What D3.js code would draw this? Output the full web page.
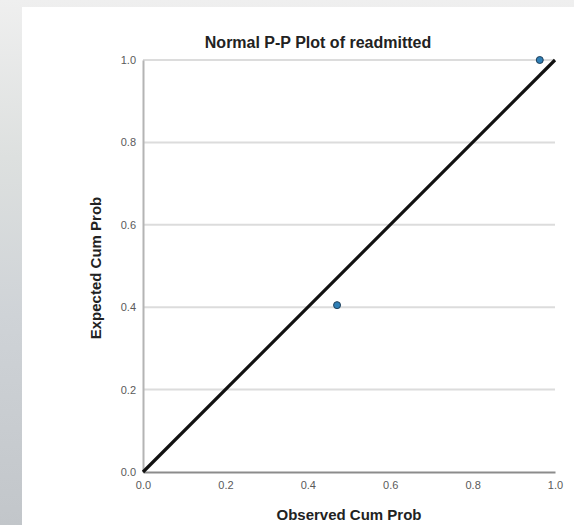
<!DOCTYPE html>
<html>
<head>
<meta charset="utf-8">
<script src="https://cdn.jsdelivr.net/npm/d3@7"></script>
<style>
  html, body { margin: 0; padding: 0; }
  body {
    width: 574px; height: 525px; overflow: hidden;
    background: linear-gradient(to bottom, #efefef 0%, #dde0df 30%, #cfd3d7 60%, #c2c6ca 100%);
    font-family: "Liberation Sans", Arial, sans-serif;
  }
  #chart { position: absolute; left: 22px; top: 7px; background: #fff; }
</style>
</head>
<body>
<svg id="chart"></svg>
<script>
const observed = [0.471, 0.963];
const expected = [0.405, 1.0];
const ticks = [0.0, 0.2, 0.4, 0.6, 0.8, 1.0];
const title = "Normal P-P Plot of readmitted";
const xTitle = "Observed Cum Prob";
const yTitle = "Expected Cum Prob";

const W = 552, H = 518;
// plot box in panel coordinates (panel starts at 22,7)
const margin = { top: 53, right: 19, bottom: 53, left: 121 };
const width = W - margin.left - margin.right;
const height = H - margin.top - margin.bottom;

const svg = d3.select("#chart").attr("width", W).attr("height", H);
const g = svg.append("g").attr("transform", `translate(${margin.left},${margin.top})`);

const x = d3.scaleLinear().domain([0, 1]).range([0, width]);
const y = d3.scaleLinear().domain([0, 1]).range([height, 0]);

// gridlines
g.selectAll(".grid")
  .data(ticks.filter((t) => t > 0))
  .enter()
  .append("line")
  .attr("x1", 0)
  .attr("x2", width)
  .attr("y1", (d) => y(d))
  .attr("y2", (d) => y(d))
  .attr("stroke", "#dcdcdc")
  .attr("stroke-width", 2);

// y axis
const yAxis = g.append("g")
  .call(d3.axisLeft(y).tickValues(ticks).tickFormat(d3.format(".1f")).tickSize(0).tickPadding(7));
yAxis.select(".domain").attr("stroke", "#b4b4b4").attr("stroke-width", 2);
yAxis.selectAll("text").attr("font-size", "11px").attr("fill", "#5a5a5a").attr("font-family", "Liberation Sans, Arial, sans-serif");

// x axis
const xAxis = g.append("g")
  .attr("transform", `translate(0,${height})`)
  .call(d3.axisBottom(x).tickValues(ticks).tickFormat(d3.format(".1f")).tickSize(0).tickPadding(9));
xAxis.select(".domain").attr("stroke", "#8c8c8c").attr("stroke-width", 2);
xAxis.selectAll("text").attr("font-size", "11px").attr("fill", "#5a5a5a").attr("font-family", "Liberation Sans, Arial, sans-serif");

// reference diagonal
g.append("line")
  .attr("x1", x(0)).attr("y1", y(0))
  .attr("x2", x(1)).attr("y2", y(1))
  .attr("stroke", "#111")
  .attr("stroke-width", 3.2);

// points
g.selectAll(".pt")
  .data(observed.map((o, i) => [o, expected[i]]))
  .enter()
  .append("circle")
  .attr("cx", (d) => x(d[0]))
  .attr("cy", (d) => y(d[1]))
  .attr("r", 3.5)
  .attr("fill", "#2f7fb6")
  .attr("stroke", "#1f3f5a")
  .attr("stroke-width", 1);

// titles
svg.append("text")
  .attr("x", 296)
  .attr("y", 41)
  .attr("text-anchor", "middle")
  .attr("font-size", "16px")
  .attr("font-weight", "bold")
  .attr("fill", "#222")
  .text(title);

svg.append("text")
  .attr("x", margin.left + width / 2)
  .attr("y", 513)
  .attr("text-anchor", "middle")
  .attr("font-size", "15px")
  .attr("font-weight", "bold")
  .attr("fill", "#222")
  .text(xTitle);

svg.append("text")
  .attr("transform", `translate(79,${margin.top + height / 2 + 2}) rotate(-90)`)
  .attr("text-anchor", "middle")
  .attr("font-size", "15px")
  .attr("font-weight", "bold")
  .attr("fill", "#222")
  .text(yTitle);
</script>
</body>
</html>
